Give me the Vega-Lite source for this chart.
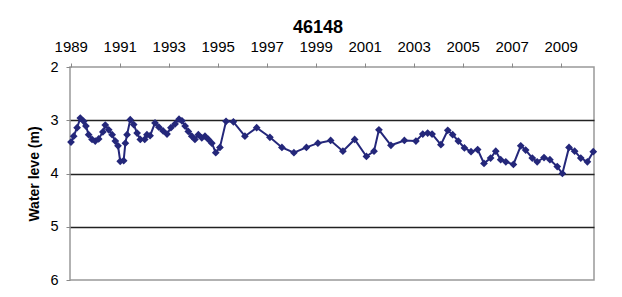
{
  "$schema": "https://vega.github.io/schema/vega-lite/v6.json",
  "width": 524,
  "height": 213,
  "autosize": {"type": "none"},
  "padding": {"left": 70, "top": 67, "right": 28, "bottom": 17},
  "background": "white",
  "title": {
    "text": "46148",
    "font": "Liberation Sans",
    "fontSize": 18,
    "fontWeight": "bold",
    "color": "black",
    "anchor": "middle",
    "dx": -14,
    "dy": 2,
    "offset": 4
  },
  "config": {
    "view": {"stroke": "#999999", "strokeWidth": 1.5},
    "axis": {
      "labelFont": "Liberation Sans",
      "titleFont": "Liberation Sans",
      "labelColor": "black",
      "titleColor": "black",
      "domain": false,
      "tickColor": "#888888",
      "tickSize": 4
    }
  },
  "data": {
    "values": [
      {"year": 1989.01, "level": 3.41},
      {"year": 1989.12, "level": 3.30},
      {"year": 1989.26, "level": 3.14},
      {"year": 1989.39, "level": 2.96},
      {"year": 1989.53, "level": 3.02},
      {"year": 1989.62, "level": 3.11},
      {"year": 1989.73, "level": 3.27},
      {"year": 1989.87, "level": 3.36},
      {"year": 1990.00, "level": 3.39},
      {"year": 1990.14, "level": 3.35},
      {"year": 1990.31, "level": 3.22},
      {"year": 1990.41, "level": 3.09},
      {"year": 1990.55, "level": 3.18},
      {"year": 1990.69, "level": 3.27},
      {"year": 1990.82, "level": 3.39},
      {"year": 1990.93, "level": 3.48},
      {"year": 1991.02, "level": 3.77},
      {"year": 1991.16, "level": 3.76},
      {"year": 1991.23, "level": 3.43},
      {"year": 1991.30, "level": 3.27},
      {"year": 1991.43, "level": 2.99},
      {"year": 1991.57, "level": 3.08},
      {"year": 1991.71, "level": 3.24},
      {"year": 1991.84, "level": 3.36},
      {"year": 1992.02, "level": 3.36},
      {"year": 1992.11, "level": 3.27},
      {"year": 1992.24, "level": 3.29},
      {"year": 1992.44, "level": 3.05},
      {"year": 1992.60, "level": 3.13},
      {"year": 1992.77, "level": 3.20},
      {"year": 1992.93, "level": 3.26},
      {"year": 1993.09, "level": 3.14},
      {"year": 1993.26, "level": 3.07},
      {"year": 1993.42, "level": 2.98},
      {"year": 1993.54, "level": 3.01},
      {"year": 1993.67, "level": 3.11},
      {"year": 1993.80, "level": 3.21},
      {"year": 1993.94, "level": 3.30},
      {"year": 1994.07, "level": 3.36},
      {"year": 1994.21, "level": 3.27},
      {"year": 1994.35, "level": 3.33},
      {"year": 1994.48, "level": 3.30},
      {"year": 1994.62, "level": 3.36},
      {"year": 1994.76, "level": 3.43},
      {"year": 1994.92, "level": 3.61},
      {"year": 1995.09, "level": 3.51},
      {"year": 1995.34, "level": 3.02},
      {"year": 1995.64, "level": 3.03},
      {"year": 1996.11, "level": 3.30},
      {"year": 1996.59, "level": 3.14},
      {"year": 1997.13, "level": 3.32},
      {"year": 1997.62, "level": 3.51},
      {"year": 1998.11, "level": 3.61},
      {"year": 1998.62, "level": 3.51},
      {"year": 1999.09, "level": 3.43},
      {"year": 1999.61, "level": 3.38},
      {"year": 2000.11, "level": 3.58},
      {"year": 2000.59, "level": 3.36},
      {"year": 2001.07, "level": 3.68},
      {"year": 2001.38, "level": 3.58},
      {"year": 2001.58, "level": 3.18},
      {"year": 2002.07, "level": 3.47},
      {"year": 2002.62, "level": 3.38},
      {"year": 2003.09, "level": 3.39},
      {"year": 2003.37, "level": 3.26},
      {"year": 2003.57, "level": 3.24},
      {"year": 2003.75, "level": 3.26},
      {"year": 2004.11, "level": 3.46},
      {"year": 2004.39, "level": 3.19},
      {"year": 2004.59, "level": 3.27},
      {"year": 2004.82, "level": 3.39},
      {"year": 2005.07, "level": 3.52},
      {"year": 2005.34, "level": 3.59},
      {"year": 2005.61, "level": 3.55},
      {"year": 2005.87, "level": 3.81},
      {"year": 2006.14, "level": 3.71},
      {"year": 2006.35, "level": 3.58},
      {"year": 2006.55, "level": 3.74},
      {"year": 2006.76, "level": 3.78},
      {"year": 2007.07, "level": 3.83},
      {"year": 2007.37, "level": 3.48},
      {"year": 2007.57, "level": 3.56},
      {"year": 2007.84, "level": 3.71},
      {"year": 2008.04, "level": 3.78},
      {"year": 2008.32, "level": 3.70},
      {"year": 2008.56, "level": 3.74},
      {"year": 2008.86, "level": 3.87},
      {"year": 2009.07, "level": 4.00},
      {"year": 2009.34, "level": 3.51},
      {"year": 2009.57, "level": 3.58},
      {"year": 2009.82, "level": 3.71},
      {"year": 2010.09, "level": 3.78},
      {"year": 2010.33, "level": 3.59}
    ]
  },
  "encoding": {
    "x": {
      "field": "year",
      "type": "quantitative",
      "scale": {"domain": [1988.97, 2010.36], "nice": false, "zero": false},
      "axis": {
        "orient": "top",
        "title": null,
        "values": [1989, 1991, 1993, 1995, 1997, 1999, 2001, 2003, 2005, 2007, 2009],
        "format": "d",
        "labelFontSize": 15,
        "labelPadding": 9,
        "labelOverlap": false,
        "labelFlush": false,
        "grid": false
      }
    },
    "y": {
      "field": "level",
      "type": "quantitative",
      "scale": {"domain": [2, 6], "reverse": true, "nice": false, "zero": false},
      "axis": {
        "title": "Water leve (m)",
        "titleFontSize": 14,
        "titleFontWeight": "bold",
        "titlePadding": 8,
        "values": [2, 3, 4, 5, 6],
        "labelFontSize": 14.5,
        "labelPadding": 8,
        "labelOverlap": false,
        "labelFlush": false,
        "grid": true,
        "gridColor": "#222222",
        "gridWidth": 1.5,
        "gridOpacity": {"condition": {"test": "datum.value == 2 || datum.value == 6", "value": 0}, "value": 1}
      }
    }
  },
  "layer": [
    {"mark": {"type": "line", "color": "#24277a", "strokeWidth": 2}},
    {"mark": {"type": "point", "shape": "diamond", "filled": true, "color": "#24277a", "size": 60, "opacity": 1}}
  ]
}
